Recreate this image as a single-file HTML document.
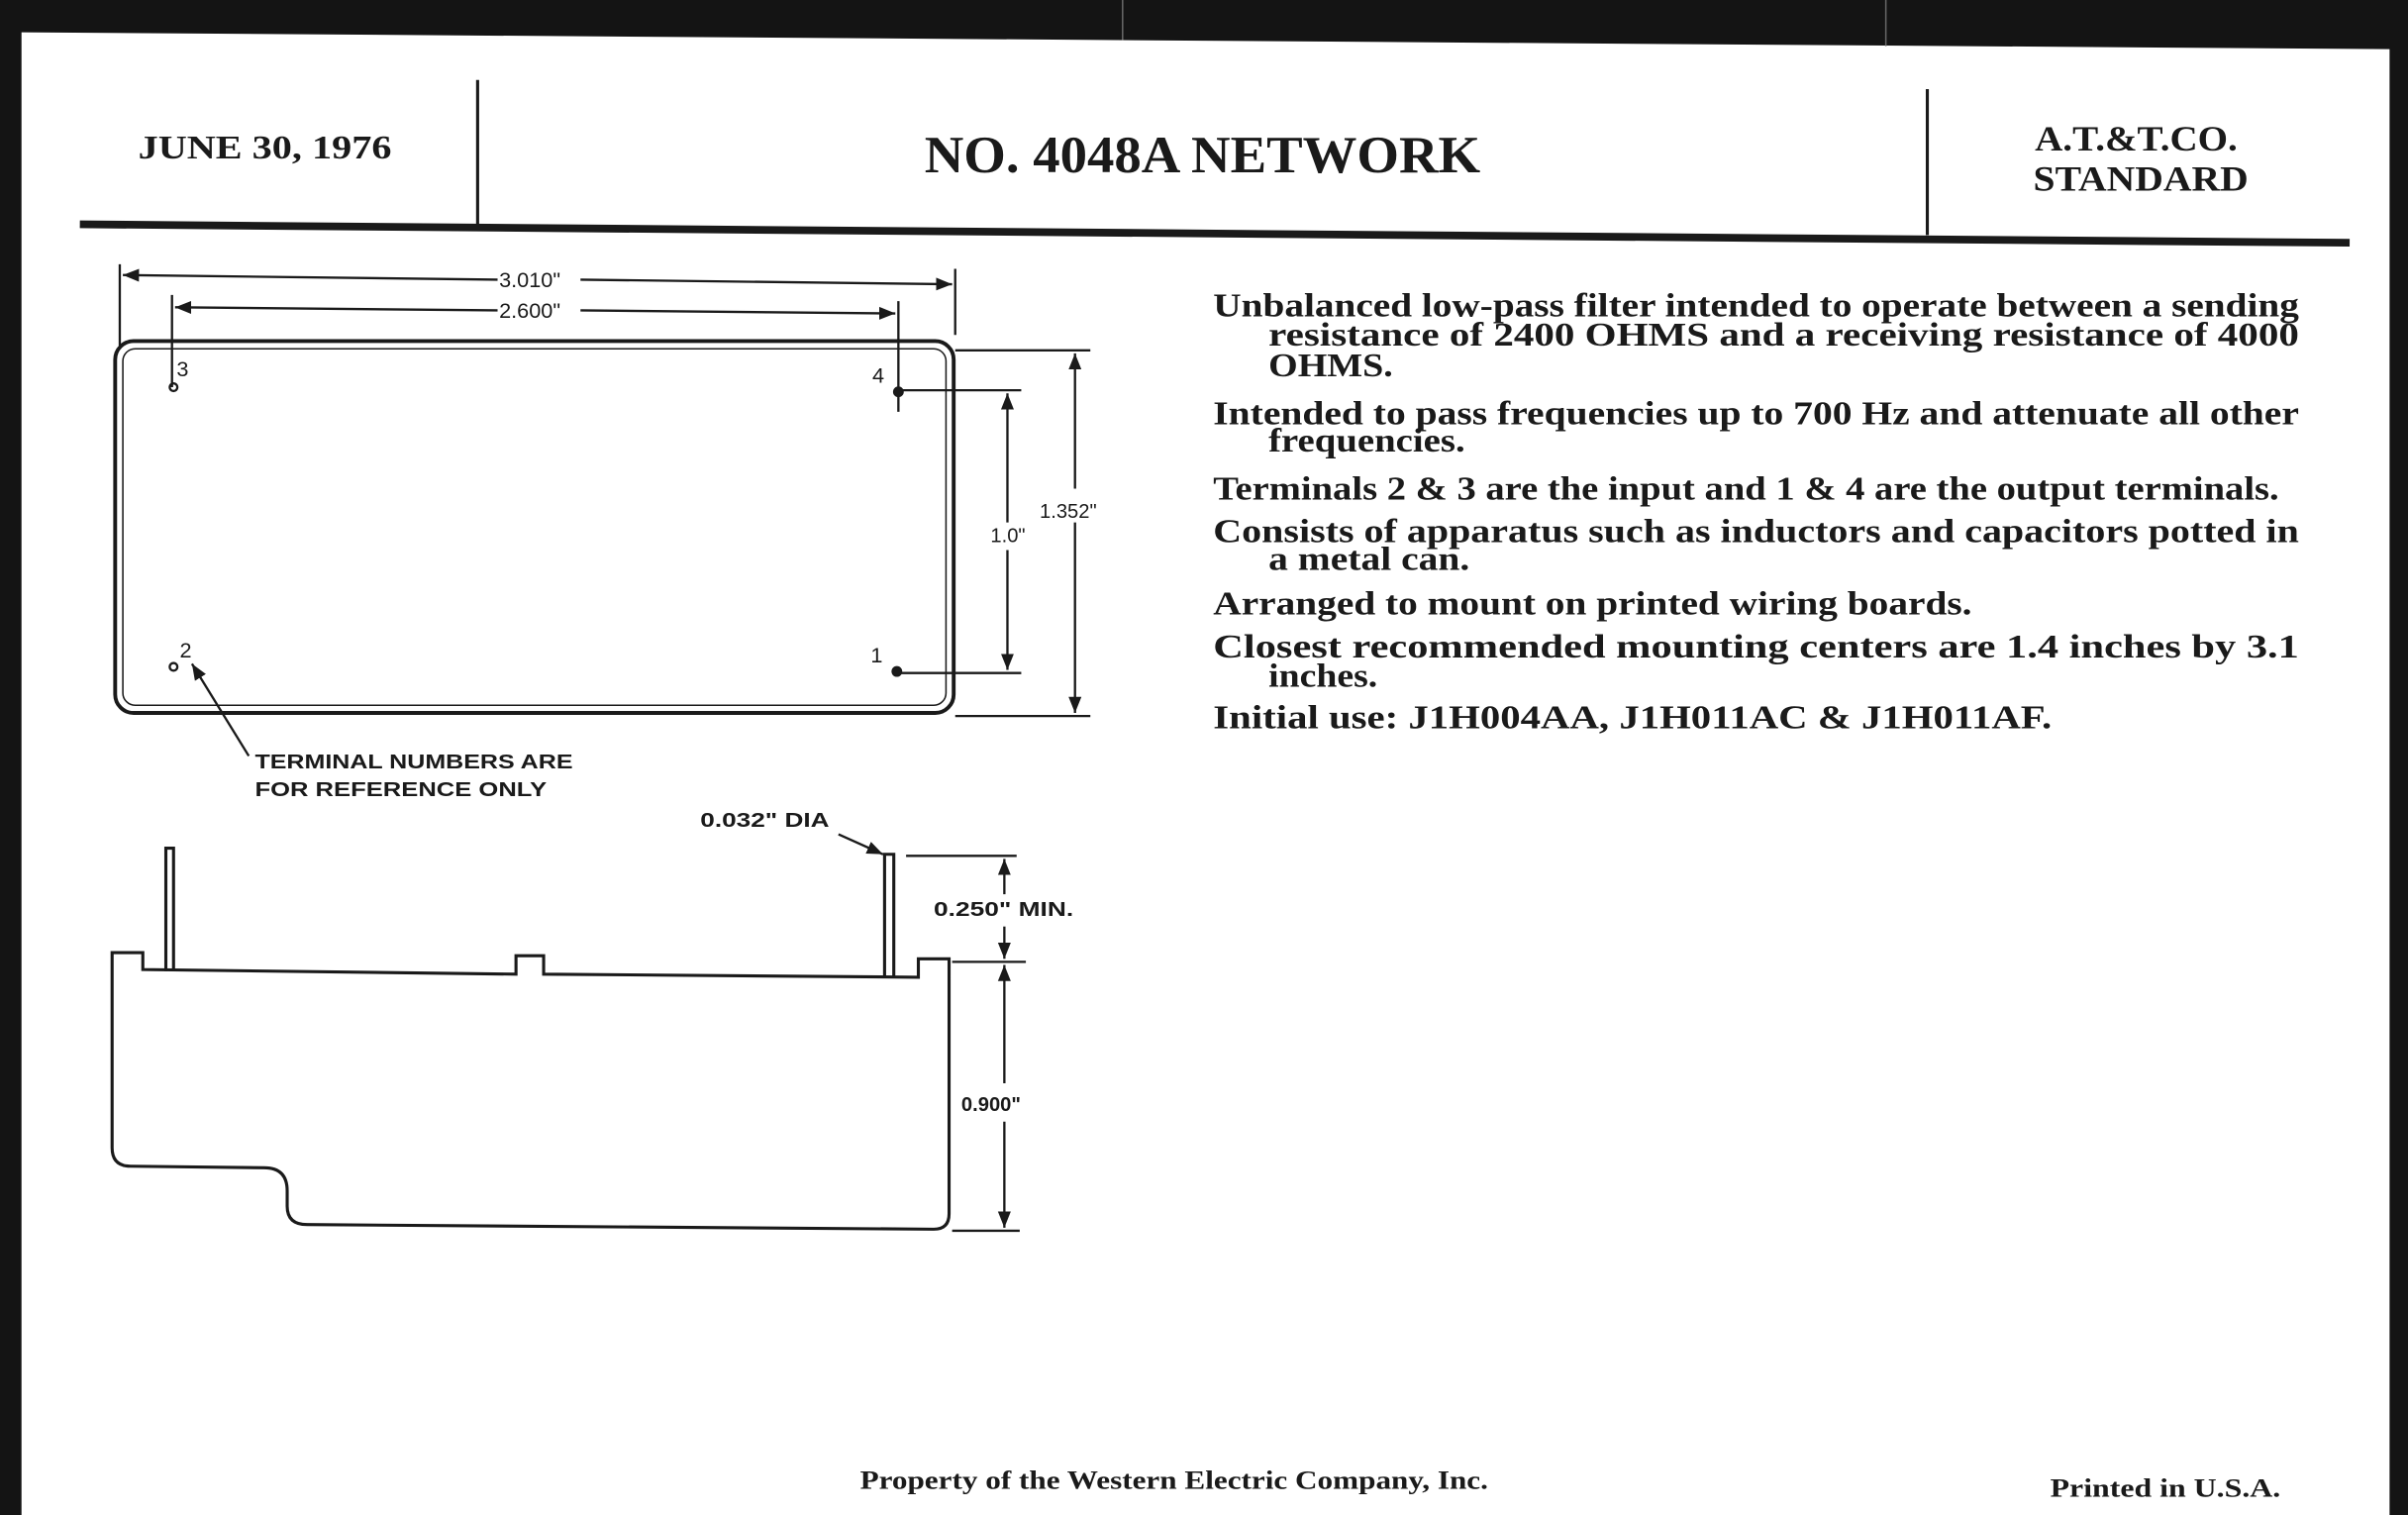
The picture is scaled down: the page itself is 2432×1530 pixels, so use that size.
<!DOCTYPE html>
<html><head><meta charset="utf-8"><style>
html,body{margin:0;padding:0;background:#000;}
svg{display:block;}
.s{font-family:"Liberation Serif",serif;font-weight:bold;fill:#1a1a1a;}
.d{font-family:"Liberation Sans",sans-serif;fill:#1a1a1a;font-weight:bold;}
</style></head><body>
<svg width="2432" height="1530" viewBox="0 0 1568 986" preserveAspectRatio="none" xmlns="http://www.w3.org/2000/svg">
<defs>
<marker id="a" viewBox="0 0 10 10" refX="10" refY="5" markerWidth="7" markerHeight="7" orient="auto-start-reverse"><path d="M0,1 L10,5 L0,9 z" fill="#1a1a1a"/></marker>
</defs>
<rect width="1568" height="986" fill="#141414"/>
<polygon points="14,21 1556,32 1556,986 14,986" fill="#fff"/>
<line x1="731" y1="0" x2="731" y2="26" stroke="#666" stroke-width="1"/>
<line x1="1228" y1="0" x2="1228" y2="30" stroke="#666" stroke-width="1"/>
<g stroke="#1a1a1a" fill="none">
<line x1="311" y1="52" x2="311" y2="147" stroke-width="2"/>
<line x1="1255" y1="58" x2="1255" y2="153" stroke-width="2"/>
<line x1="52" y1="146" x2="1530" y2="158" stroke-width="5"/>
</g>
<text class="s" x="90" y="103" font-size="22" textLength="165" lengthAdjust="spacingAndGlyphs">JUNE 30, 1976</text>
<text class="s" x="602" y="112" font-size="34" textLength="362" lengthAdjust="spacingAndGlyphs">NO. 4048A NETWORK</text>
<text class="s" x="1325" y="98" font-size="23" textLength="132" lengthAdjust="spacingAndGlyphs">A.T.&amp;T.CO.</text>
<text class="s" x="1324" y="124" font-size="23" textLength="140" lengthAdjust="spacingAndGlyphs">STANDARD</text>
<g stroke="#1a1a1a" fill="none" stroke-width="1.5">
<line x1="78" y1="172" x2="78" y2="225"/>
<line x1="622" y1="175" x2="622" y2="218"/>
<line x1="112" y1="192" x2="112" y2="252"/>
<line x1="585" y1="196" x2="585" y2="268"/>
<line x1="80" y1="179" x2="324" y2="182" marker-start="url(#a)"/>
<line x1="378" y1="182" x2="620" y2="185" marker-end="url(#a)"/>
<line x1="114" y1="200" x2="324" y2="202" marker-start="url(#a)"/>
<line x1="378" y1="202" x2="583" y2="204" marker-end="url(#a)"/>
<rect x="75" y="222" width="546" height="242" rx="12" stroke-width="2.5"/>
<rect x="80" y="227" width="536" height="232" rx="8" stroke-width="1"/>
<line x1="585" y1="254" x2="665" y2="254"/>
<line x1="585" y1="438" x2="665" y2="438"/>
<line x1="622" y1="228" x2="710" y2="228"/>
<line x1="622" y1="466" x2="710" y2="466"/>
<line x1="656" y1="256" x2="656" y2="340" marker-start="url(#a)"/>
<line x1="656" y1="358" x2="656" y2="436" marker-end="url(#a)"/>
<line x1="700" y1="230" x2="700" y2="318" marker-start="url(#a)"/>
<line x1="700" y1="340" x2="700" y2="464" marker-end="url(#a)"/>
<circle cx="113" cy="252" r="2.5"/>
<circle cx="113" cy="434" r="2.5"/>
<line x1="162" y1="492" x2="125" y2="432" marker-end="url(#a)"/>
</g>
<circle cx="585" cy="255" r="3.5" fill="#1a1a1a"/>
<circle cx="584" cy="437" r="3.5" fill="#1a1a1a"/>
<g class="d" font-size="14">
<text x="325" y="187" font-weight="normal">3.010"</text>
<text x="325" y="207" font-weight="normal">2.600"</text>
<text x="115" y="245" font-weight="normal">3</text>
<text x="568" y="249" font-weight="normal">4</text>
<text x="117" y="428" font-weight="normal">2</text>
<text x="567" y="431" font-weight="normal">1</text>
<text x="645" y="353" font-size="13" font-weight="normal">1.0"</text>
<text x="677" y="337" font-size="13" font-weight="normal">1.352"</text>
<text x="166" y="500" font-size="13" textLength="207" lengthAdjust="spacingAndGlyphs">TERMINAL NUMBERS ARE</text>
<text x="166" y="518" font-size="13" textLength="190" lengthAdjust="spacingAndGlyphs">FOR REFERENCE ONLY</text>
<text x="456" y="538" font-size="13" textLength="84" lengthAdjust="spacingAndGlyphs">0.032" DIA</text>
<text x="608" y="596" font-size="13" textLength="91" lengthAdjust="spacingAndGlyphs">0.250" MIN.</text>
<text x="626" y="723" font-size="13">0.900"</text>
</g>
<g stroke="#1a1a1a" fill="none" stroke-width="2">
<path d="M108,632 L108,552 L113,552 L113,632"/>
<path d="M576,636 L576,556 L582,556 L582,636"/>
<path d="M73,620 L93,620 L93,631 L336,634 L336,622 L354,622 L354,634 L598,636 L598,624 L618,624 L618,790 Q618,800 608,800 L200,797 Q187,797 187,785 L187,775 Q187,760 172,760 L85,759 Q73,759 73,747 Z"/>
<line x1="546" y1="543" x2="575" y2="556" stroke-width="1.5" marker-end="url(#a)"/>
<line x1="590" y1="557" x2="662" y2="557" stroke-width="1.5"/>
<line x1="620" y1="626" x2="668" y2="626" stroke-width="1.5"/>
<line x1="620" y1="801" x2="664" y2="801" stroke-width="1.5"/>
<line x1="654" y1="559" x2="654" y2="582" stroke-width="1.5" marker-start="url(#a)"/>
<line x1="654" y1="603" x2="654" y2="624" stroke-width="1.5" marker-end="url(#a)"/>
<line x1="654" y1="628" x2="654" y2="705" stroke-width="1.5" marker-start="url(#a)"/>
<line x1="654" y1="730" x2="654" y2="799" stroke-width="1.5" marker-end="url(#a)"/>
</g>
<g class="s" font-size="22">
<text x="790" y="206" textLength="707" lengthAdjust="spacingAndGlyphs">Unbalanced low-pass filter intended to operate between a sending</text>
<text x="826" y="225" textLength="671" lengthAdjust="spacingAndGlyphs">resistance of 2400 OHMS and a receiving resistance of 4000</text>
<text x="826" y="245" textLength="81" lengthAdjust="spacingAndGlyphs">OHMS.</text>
<text x="790" y="276" textLength="707" lengthAdjust="spacingAndGlyphs">Intended to pass frequencies up to 700 Hz and attenuate all other</text>
<text x="826" y="294" textLength="128" lengthAdjust="spacingAndGlyphs">frequencies.</text>
<text x="790" y="325" textLength="694" lengthAdjust="spacingAndGlyphs">Terminals 2 &amp; 3 are the input and 1 &amp; 4 are the output terminals.</text>
<text x="790" y="353" textLength="707" lengthAdjust="spacingAndGlyphs">Consists of apparatus such as inductors and capacitors potted in</text>
<text x="826" y="371" textLength="131" lengthAdjust="spacingAndGlyphs">a metal can.</text>
<text x="790" y="400" textLength="494" lengthAdjust="spacingAndGlyphs">Arranged to mount on printed wiring boards.</text>
<text x="790" y="428" textLength="707" lengthAdjust="spacingAndGlyphs">Closest recommended mounting centers are 1.4 inches by 3.1</text>
<text x="826" y="447" textLength="71" lengthAdjust="spacingAndGlyphs">inches.</text>
<text x="790" y="474" textLength="546" lengthAdjust="spacingAndGlyphs">Initial use:  J1H004AA, J1H011AC &amp; J1H011AF.</text>
</g>
<text class="s" x="560" y="969" font-size="17" textLength="409" lengthAdjust="spacingAndGlyphs">Property of the Western Electric Company, Inc.</text>
<text class="s" x="1335" y="974" font-size="17" textLength="150" lengthAdjust="spacingAndGlyphs">Printed in U.S.A.</text>
</svg>
</body></html>
